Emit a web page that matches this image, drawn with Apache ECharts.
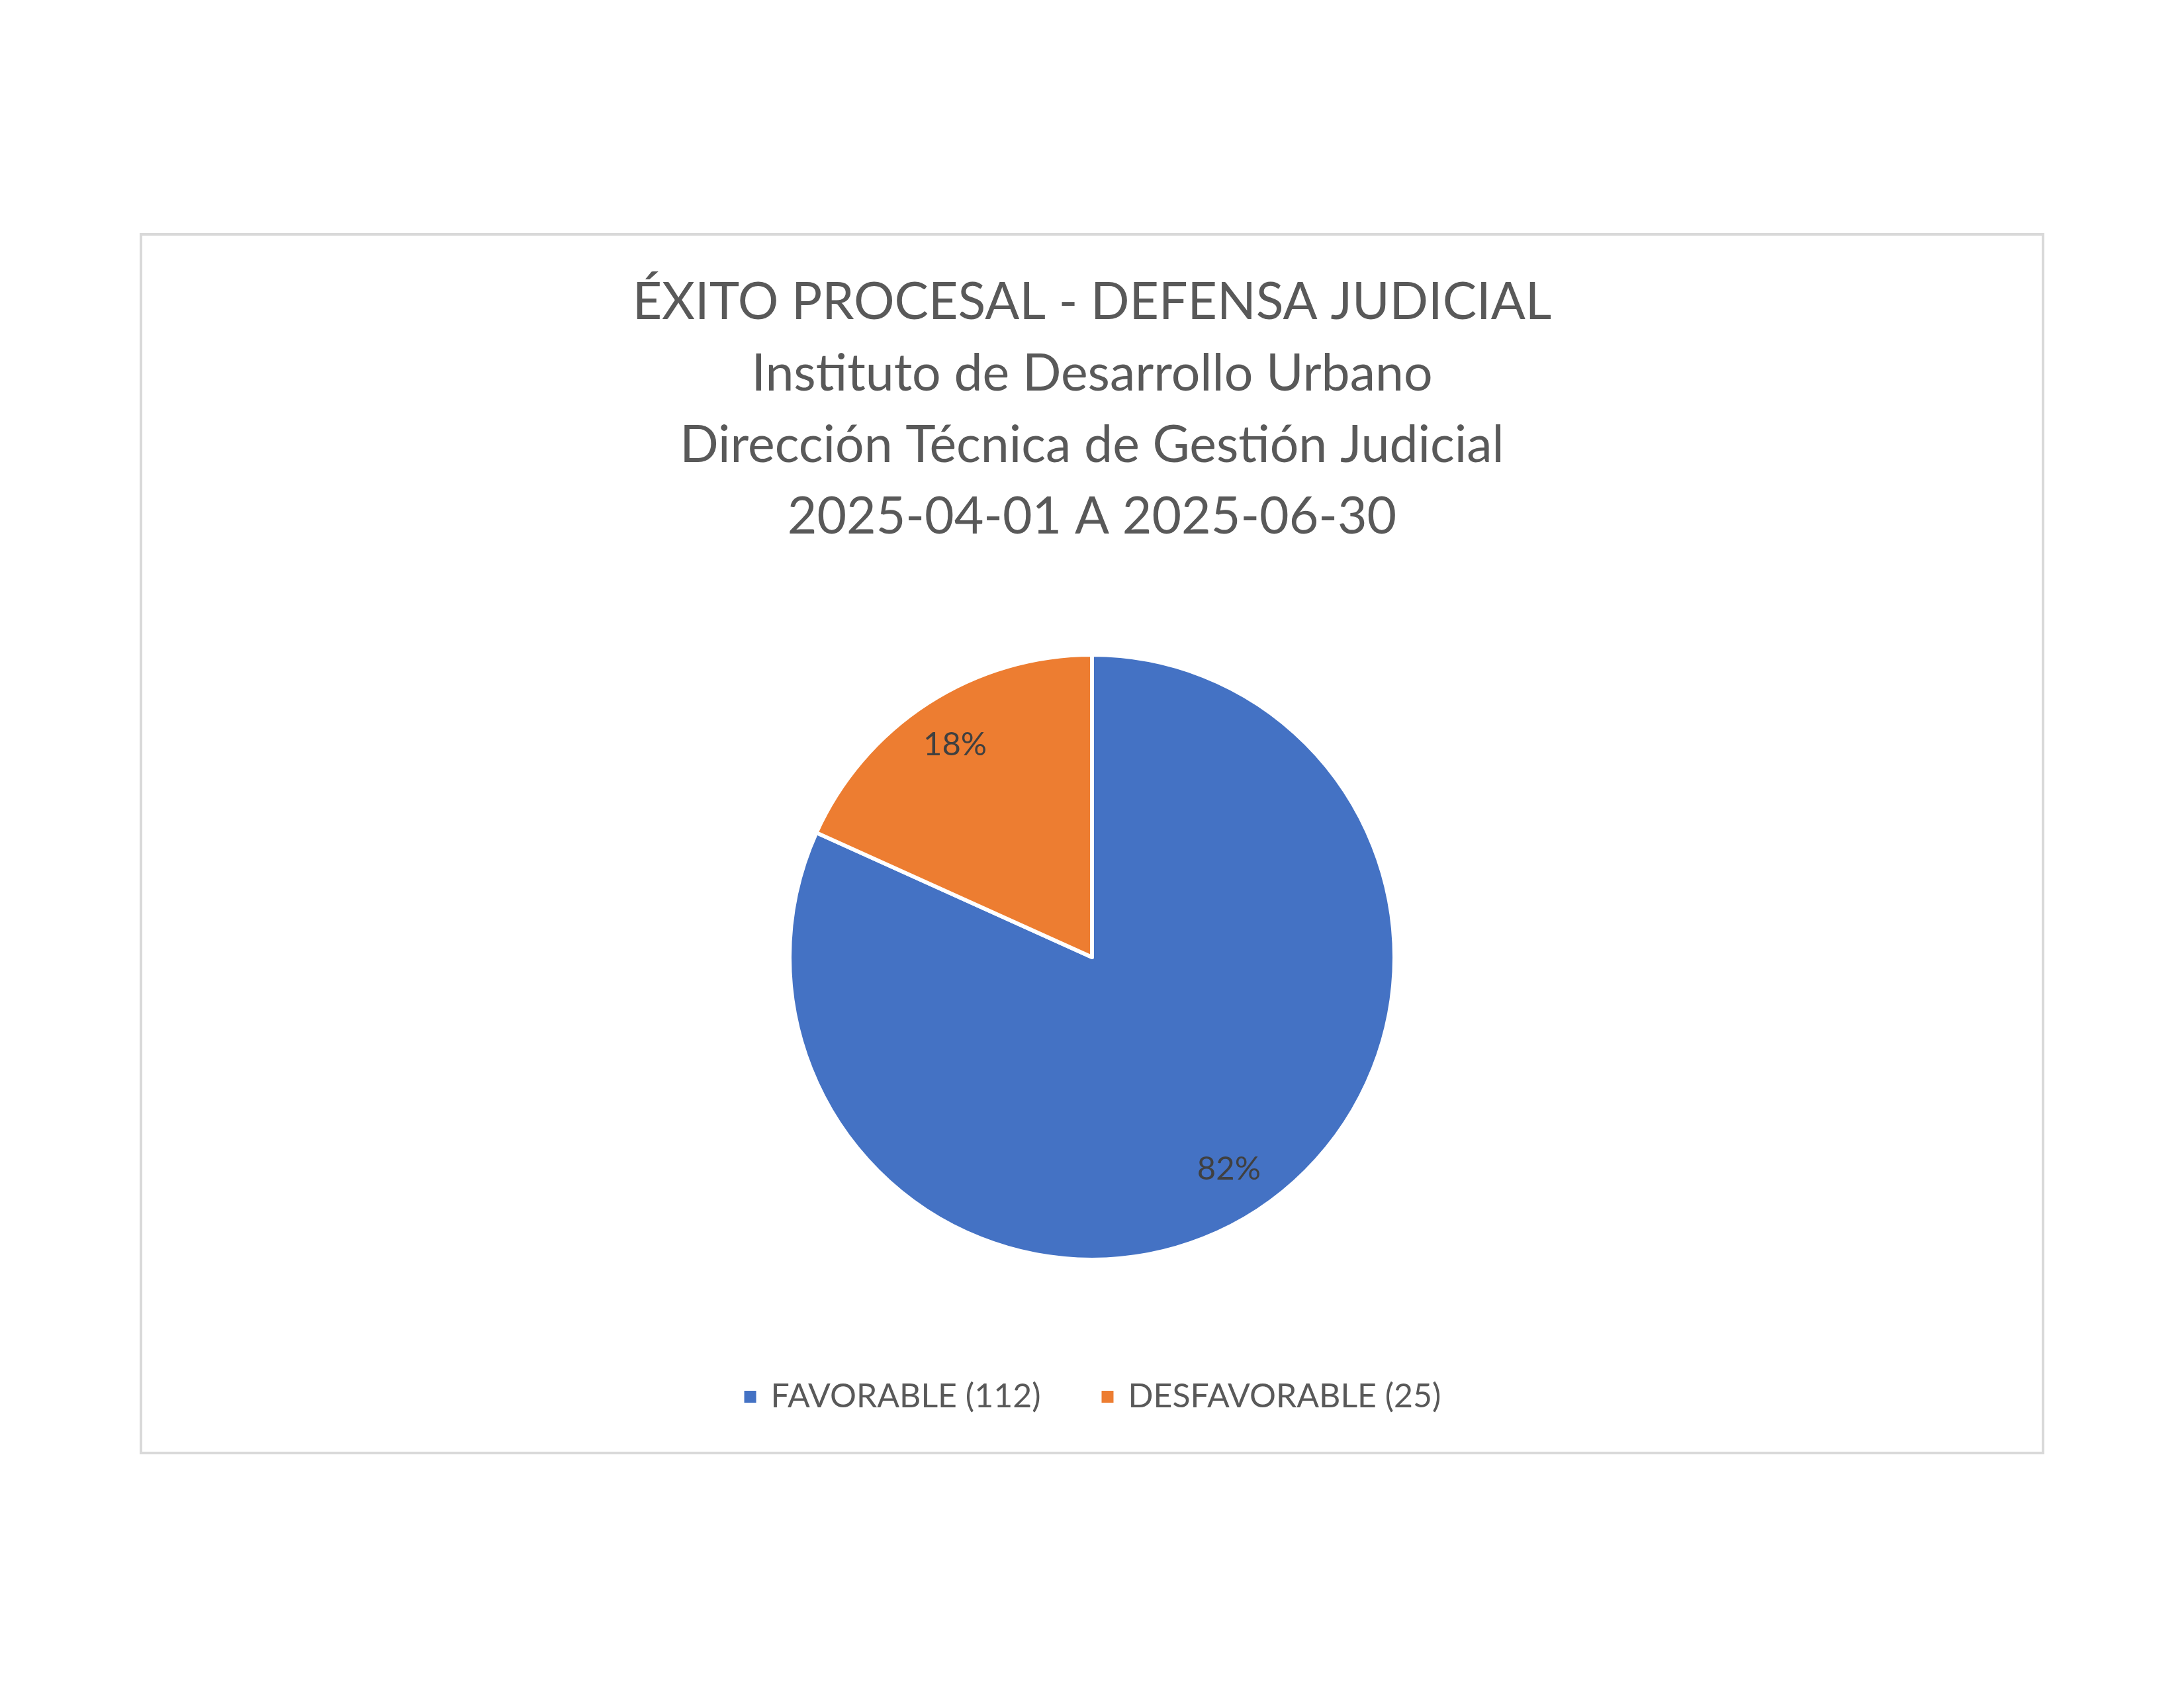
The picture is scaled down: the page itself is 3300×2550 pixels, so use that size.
<!DOCTYPE html>
<html>
<head>
<meta charset="utf-8">
<script src="https://cdn.jsdelivr.net/npm/echarts@6/dist/echarts.min.js"></script>
<style>
  html, body { margin: 0; padding: 0; background: #fff; }
  #chart { width: 3300px; height: 2550px; }
</style>
</head>
<body>
<div id="chart"></div>
<script>
const categories = ['FAVORABLE', 'DESFAVORABLE'];
const values = [112, 25];
const colors = ['#4472C4', '#ED7D31'];
const titleLines = [
    'ÉXITO PROCESAL - DEFENSA JUDICIAL',
    'Instituto de Desarrollo Urbano',
    'Dirección Técnica de Gestión Judicial',
    '2025-04-01 A 2025-06-30'
];

const total = values.reduce((a, b) => a + b, 0);
const pieData = categories.map((c, i) => ({ name: c, value: values[i], itemStyle: { color: colors[i] } }));
const font = 'Lato, "Open Sans", sans-serif';

const chart = echarts.init(document.getElementById('chart'));
const option = {
    backgroundColor: '#ffffff',
    textStyle: { fontFamily: font },
    title: {
        text: titleLines.join('\n'),
        left: 'center',
        top: 403,
        padding: 0,
        textStyle: { fontFamily: font, fontSize: 77, fontWeight: 'normal', color: '#595959', lineHeight: 108 }
    },
    legend: {
        data: categories,
        left: 'center',
        top: 2080,
        icon: 'rect',
        itemWidth: 20,
        itemHeight: 20,
        itemGap: 90,
        formatter: name => name + ' (' + values[categories.indexOf(name)] + ')',
        textStyle: { fontFamily: font, fontSize: 50, color: '#595959', padding: [0, 0, 0, 16] }
    },
    graphic: [{
        type: 'rect',
        shape: { x: 213, y: 354, width: 2874, height: 1841 },
        style: { fill: 'none', stroke: '#d9d9d9', lineWidth: 4 },
        silent: true
    }],
    series: [
        {
            type: 'pie',
            center: [1650, 1446],
            radius: [0, 457],
            startAngle: 90,
            clockwise: true,
            label: { show: false },
            labelLine: { show: false },
            itemStyle: { borderColor: '#ffffff', borderWidth: 6 },
            emphasis: { disabled: true },
            data: pieData
        },
        {
            // transparent ring only used to place percentage labels
            type: 'pie',
            center: [1650, 1446],
            radius: [300, 457],
            startAngle: 90,
            clockwise: true,
            silent: true,
            itemStyle: { color: 'transparent', borderWidth: 0 },
            label: {
                show: true,
                position: 'inside',
                fontFamily: font,
                fontSize: 49,
                color: '#404040',
                formatter: p => Math.round(p.value / total * 100) + '%'
            },
            labelLine: { show: false },
            emphasis: { disabled: true },
            data: categories.map((c, i) => ({ name: c, value: values[i] }))
        }
    ]
};
chart.setOption(option);
window.addEventListener('resize', () => chart.resize());
</script>
</body>
</html>
